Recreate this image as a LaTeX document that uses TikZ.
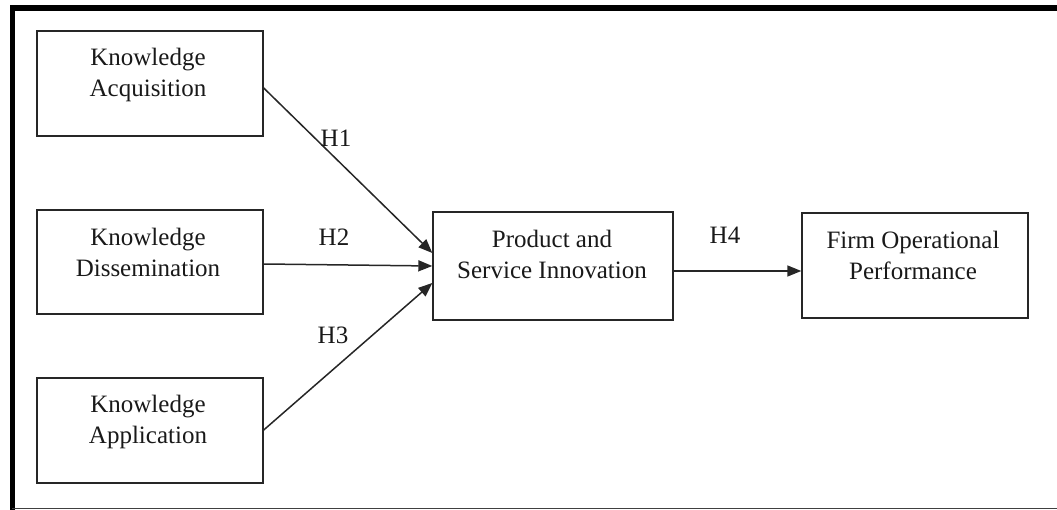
\documentclass[tikz,border=0pt]{standalone}
\usepackage{fontspec}
\setmainfont{Liberation Serif}
\usetikzlibrary{arrows.meta}
\begin{document}
\begin{tikzpicture}[x=1pt,y=-1pt,
  box/.style={draw=black!85,line width=1.4pt,inner sep=0pt},
  txt/.style={align=center,font=\fontsize{25}{31}\selectfont,text=black!90,inner sep=0pt},
  hlab/.style={font=\fontsize{25}{31}\selectfont,text=black!90,inner sep=0pt},
  conn/.style={line width=1.5pt,draw=black!85,-{Triangle[length=14pt,width=11pt]}}]
\useasboundingbox (0,0) rectangle (1057,510);
% frame
\draw[line width=5.5pt,black] (12.5,510) -- (12.5,8) -- (1057,8);
\draw[line width=1.5pt,black!75] (12,508.5) -- (1057,508.5);
% boxes
\node[box,minimum width=226pt,minimum height=105pt] (ka) at (150,83.5) {};
\node[box,minimum width=226pt,minimum height=104pt] (kd) at (150,262) {};
\node[box,minimum width=226pt,minimum height=105pt] (kapp) at (150,430.5) {};
\node[box,minimum width=240pt,minimum height=108pt] (psi) at (553,266) {};
\node[box,minimum width=226pt,minimum height=105pt] (fop) at (915,265.5) {};
% texts
\node[txt] (kat) at (148,75) {Knowledge\\Acquisition};
\node[txt] (kdt) at (148,252.5) {Knowledge\\Dissemination};
\node[txt] (kappt) at (148,421.5) {Knowledge\\Application};
\node[txt] (psit) at (552,254) {Product and\\Service Innovation};
\node[txt] (fopt) at (913,255.5) {Firm Operational\\Performance};
% connectors
\coordinate (a1) at ([yshift=-4.5pt]ka.east);
\coordinate (b1) at ([yshift=13pt]psi.west);
\coordinate (a2) at ([yshift=-2pt]kd.east);
\coordinate (b2) at (psi.west);
\coordinate (a3) at ([yshift=0.5pt]kapp.east);
\coordinate (b3) at ([yshift=-17pt]psi.west);
\coordinate (a4) at ([yshift=-5pt]psi.east);
\coordinate (b4) at (fop.west |- a4);
\draw[conn] (a1) -- (b1);
\draw[conn] (a2) -- (b2);
\draw[conn] (a3) -- (b3);
\draw[conn] (a4) -- (b4);
% labels
\node[hlab] (h1) at (336,138) {H1};
\node[hlab] (h2) at (334,237) {H2};
\node[hlab] (h3) at (333,335) {H3};
\node[hlab] (h4) at (725,235) {H4};
\end{tikzpicture}
\end{document}
